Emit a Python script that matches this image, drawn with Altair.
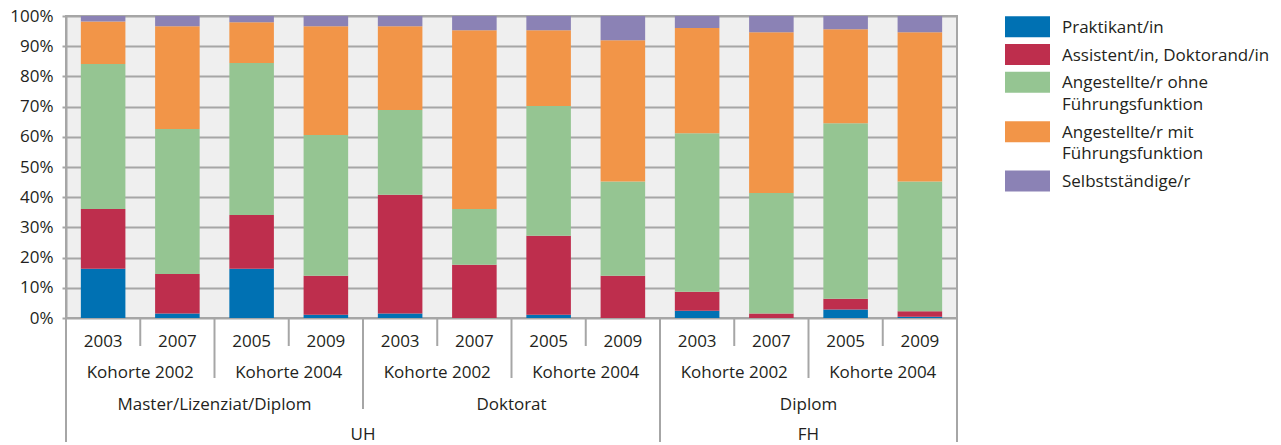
import altair as alt
import pandas as pd

# ---- data -------------------------------------------------------------
# bar order, left to right, with the nested group labels underneath
jahre = ["2003", "2007", "2005", "2009"] * 3
kohorten = ["Kohorte 2002", "Kohorte 2004"] * 3
kohorten_n = [2] * 6
abschluesse = ["Master/Lizenziat/Diplom", "Doktorat", "Diplom"]
abschluesse_n = [4, 4, 4]
hochschulen = ["UH", "FH"]
hochschulen_n = [8, 4]

kategorien = [
    "Praktikant/in",
    "Assistent/in, Doktorand/in",
    "Angestellte/r ohne\nFührungsfunktion",
    "Angestellte/r mit\nFührungsfunktion",
    "Selbstständige/r",
]
farben = ["#0071b3", "#be2e4d", "#95c592", "#f29548", "#8b82b5"]

# shares in percent, one value per bar
praktikant = [16.3, 1.5, 16.3, 1.1, 1.5, 0.0, 1.1, 0.0, 2.4, 0.0, 2.8, 0.4]
assistent = [19.8, 13.1, 17.8, 12.9, 39.3, 17.6, 26.1, 14.0, 6.3, 1.5, 3.6, 1.8]
ohne_fuehrung = [48.0, 48.0, 50.3, 46.6, 28.1, 18.5, 43.0, 31.2, 52.5, 39.9, 58.1, 43.0]
mit_fuehrung = [14.1, 34.0, 13.5, 36.0, 27.7, 59.2, 25.1, 46.8, 34.8, 53.2, 31.1, 49.4]
selbststaendig = [1.8, 3.4, 2.1, 3.4, 3.4, 4.7, 4.7, 8.0, 4.0, 5.4, 4.4, 5.4]

# ---- styling ----------------------------------------------------------
W, H = 891, 302
FONT = "Open Sans"
FS = 17
INK = "#231f20"
GRID = "#a6a6a6"
BG = "#efefef"
BAR_FRAC = 0.6

n_bars = len(jahre)
x_scale = alt.Scale(domain=[0, n_bars], nice=False, zero=False)
y_scale = alt.Scale(domain=[0, 1], nice=False)
color_scale = alt.Scale(domain=kategorien, range=farben)

# ---- stacked bars -----------------------------------------------------
serien = [praktikant, assistent, ohne_fuehrung, mit_fuehrung, selbststaendig]
rows = []
for i in range(n_bars):
    base = 0.0
    for kat, serie in zip(kategorien, serien):
        share = serie[i] / 100.0
        if share > 0:
            rows.append(
                dict(
                    kat=kat,
                    x0=i + (1 - BAR_FRAC) / 2,
                    x1=i + (1 + BAR_FRAC) / 2,
                    start=base,
                    end=base + share,
                )
            )
        base += share
bars = pd.DataFrame(rows)

bar_layer = alt.Chart(bars).mark_bar().encode(
    x=alt.X("x0:Q", scale=x_scale, axis=None),
    x2="x1:Q",
    y=alt.Y(
        "start:Q",
        scale=y_scale,
        axis=alt.Axis(
            title=None,
            format=".0%",
            values=[k / 10 for k in range(11)],
            grid=True,
            gridColor=GRID,
            gridWidth=2,
            domainColor=GRID,
            domainWidth=2,
            tickColor=GRID,
            tickWidth=2,
            tickSize=4,
            labelFont=FONT,
            labelFontSize=FS,
            labelColor=INK,
            labelPadding=9,
        ),
    ),
    y2="end:Q",
    color=alt.Color("kat:N", scale=color_scale, legend=None),
)

# ---- nested category axis ---------------------------------------------
# (labels, group sizes, label offset below the plot, separator length)
ebenen = [
    (jahre, [1] * n_bars, 24, 28),
    (kohorten, kohorten_n, 55, 60),
    (abschluesse, abschluesse_n, 86.5, 91),
    (hochschulen, hochschulen_n, 116.5, 124),
]

text_layers = []
tiefe = {}
for lvl, (labels, sizes, off, depth) in enumerate(ebenen):
    starts, pos = [], 0
    for n in sizes:
        starts.append(pos)
        pos += n
    mids = [s + n / 2 for s, n in zip(starts, sizes)]
    for b in starts + [pos]:
        tiefe[b] = depth
    df = pd.DataFrame({"label": labels, "mitte": mids})
    text_layers.append(
        alt.Chart(df)
        .mark_text(font=FONT, fontSize=FS, color=INK, align="center", baseline="middle")
        .encode(
            x=alt.X("mitte:Q", scale=x_scale, axis=None),
            y=alt.value(H + off),
            text="label:N",
        )
    )

rule_layers = []
for depth in sorted(set(tiefe.values())):
    grenzen = pd.DataFrame({"grenze": sorted(b for b, d in tiefe.items() if d == depth)})
    rule_layers.append(
        alt.Chart(grenzen)
        .mark_rule(color=GRID, strokeWidth=2)
        .encode(
            x=alt.X("grenze:Q", scale=x_scale, axis=None),
            y=alt.value(H),
            y2=alt.value(H + depth),
        )
    )

main = alt.layer(bar_layer, *rule_layers, *text_layers).properties(
    width=W,
    height=H,
    view=alt.ViewBackground(fill=BG, stroke=GRID, strokeWidth=2),
)

# ---- legend -----------------------------------------------------------
ENTRY_GAP, LINE_GAP, FIRST = 27.8, 21.6, 10.7
SW_W, SW_H, TEXT_X = 45, 21, 57
swatches, zeilen = [], []
extra = 0
for k, kat in enumerate(kategorien):
    lines = kat.split("\n")
    mitte = FIRST + k * ENTRY_GAP + extra * LINE_GAP
    swatches.append(dict(kat=kat, top=mitte - SW_H / 2, bottom=mitte + SW_H / 2))
    for j, line in enumerate(lines):
        zeilen.append(dict(text=line, y=mitte + j * LINE_GAP + 1))
    extra += len(lines) - 1

legend_swatch = alt.Chart(pd.DataFrame(swatches)).mark_rect().encode(
    x=alt.value(0),
    x2=alt.value(SW_W),
    y=alt.Y("top:Q", scale=None, axis=None),
    y2="bottom:Q",
    color=alt.Color("kat:N", scale=color_scale, legend=None),
)
legend_text = alt.Chart(pd.DataFrame(zeilen)).mark_text(
    font=FONT, fontSize=FS, color=INK, align="left", baseline="middle"
).encode(
    x=alt.value(TEXT_X),
    y=alt.Y("y:Q", scale=None, axis=None),
    text="text:N",
)
legend = alt.layer(legend_swatch, legend_text).properties(
    width=262,
    height=H,
    view=alt.ViewBackground(fill="transparent", stroke="transparent"),
)

chart = (
    alt.hconcat(main, legend, spacing=48, bounds="flush")
    .properties(padding={"left": 8, "top": 6, "right": 0, "bottom": 0})
    .configure(background="white")
)

chart.save("out.html", embed_options={"renderer": "svg", "actions": False})
